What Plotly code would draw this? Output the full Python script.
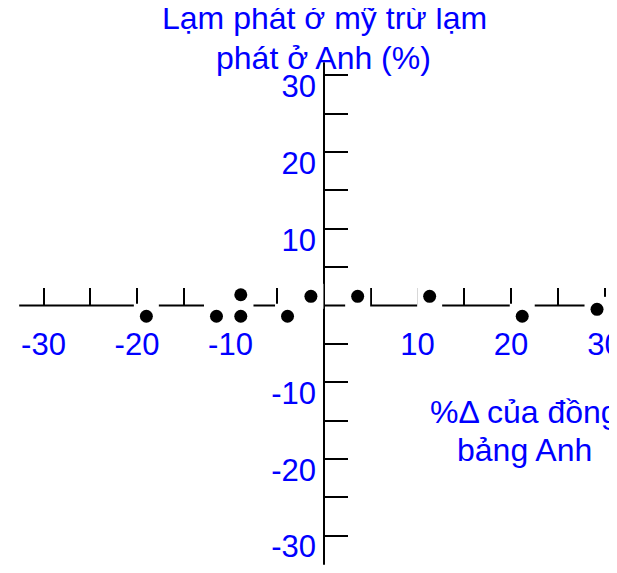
"""
Tỷ giá đồng bảng Anh và chênh lệch lạm phát Mỹ - Anh
"""
import plotly.graph_objects as go

# Dữ liệu
pct_change_gbp = [-19.0, -11.5, -8.9, -8.9, -3.9, -1.4, 3.6, 11.3, 21.2, 29.2]
inflation_diff = [-1.4, -1.4, 1.4, -1.4, -1.4, 1.2, 1.2, 1.2, -1.4, -0.5]

x_ticks = [-30, -25, -20, -15, -10, -5, 5, 10, 15, 20, 25, 30]
x_labels = ['-30', '', '-20', '', '-10', '', '', '10', '', '20', '', '30']
y_ticks = [-30, -25, -20, -15, -10, -5, 5, 10, 15, 20, 25, 30]
y_labels = ['-30', '', '-20', '', '-10', '', '', '10', '', '20', '', '30']

# kích thước trang; trang html có lề body 8px
W, H = 617, 573
OFF = 8
# gốc toạ độ và tỉ lệ (pixel trên trang)
X0_PX, X_SCALE = 324, 9.35
Y0_PX, Y_SCALE = 305.5, 7.67

x_range = [(OFF - X0_PX) / X_SCALE, (OFF + W - X0_PX) / X_SCALE]
y_range = [(Y0_PX - (OFF + H)) / Y_SCALE, (Y0_PX - OFF) / Y_SCALE]


def px(x, y):
    """vị trí trên trang -> toạ độ paper"""
    return (x - OFF) / W, 1 - (y - OFF) / H


blue = '#0000ff'
font = 'Liberation Sans, Arial, sans-serif'

fig = go.Figure()

# nền trắng quanh mỗi điểm (che trục như hình gốc)
fig.add_trace(go.Scatter(
    x=pct_change_gbp, y=inflation_diff, mode='markers',
    marker=dict(symbol='square', size=25, color='white', line=dict(width=0)),
    hoverinfo='skip', showlegend=False
))
fig.add_trace(go.Scatter(
    x=pct_change_gbp, y=inflation_diff, mode='markers',
    marker=dict(symbol='circle', size=13, color='black', line=dict(width=0)),
    showlegend=False
))

# hai trục cắt nhau tại gốc
fig.add_shape(type='line', x0=-32.6, x1=33, y0=0, y1=0,
              line=dict(color='black', width=2), layer='below')
fig.add_shape(type='line', x0=0, x1=0, y0=31.7, y1=-33.8,
              line=dict(color='black', width=2), layer='below')

x_pos = (0 - y_range[0]) / (y_range[1] - y_range[0])
y_pos = (0 - x_range[0]) / (x_range[1] - x_range[0])

fig.update_xaxes(
    range=x_range, anchor='free', position=x_pos,
    showgrid=False, zeroline=False, showline=False,
    tickmode='array', tickvals=x_ticks, ticktext=x_labels,
    ticks='inside', ticklen=18, tickwidth=2, tickcolor='black',
    ticklabelstandoff=17,
    tickfont=dict(family=font, size=31, color=blue),
    layer='below traces'
)
fig.update_yaxes(
    range=y_range, anchor='free', position=y_pos,
    showgrid=False, zeroline=False, showline=False,
    tickmode='array', tickvals=y_ticks, ticktext=y_labels,
    ticks='inside', ticklen=23, tickwidth=2, tickcolor='black',
    ticklabelshift=11, ticklabelstandoff=8,
    tickfont=dict(family=font, size=31, color=blue),
    layer='below traces'
)

# tiêu đề trục
title_font = dict(family=font, size=32, color=blue)
titles = [
    ('Lạm phát ở mỹ trừ lạm', 324, 18),
    ('phát ở Anh (%)', 323, 58),
    ('%Δ của đồng', 524, 412),
    ('bảng Anh', 524, 450),
]
for text, tx, ty in titles:
    ax, ay = px(tx, ty)
    fig.add_annotation(text=text, xref='paper', yref='paper', x=ax, y=ay,
                       xanchor='center', yanchor='middle',
                       showarrow=False, font=title_font)

fig.update_layout(
    width=W, height=H,
    margin=dict(l=0, r=0, t=0, b=0),
    paper_bgcolor='white', plot_bgcolor='white',
    showlegend=False
)

fig.write_html('out.html')
